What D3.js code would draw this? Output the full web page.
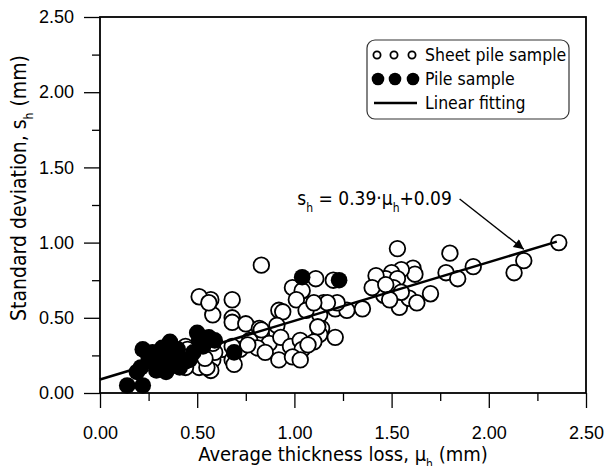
<!DOCTYPE html>
<html>
<head>
<meta charset="utf-8">
<script src="https://cdn.jsdelivr.net/npm/d3@7"></script>
<style>
  body { margin: 0; background: #fff; }
  svg { display: block; font-family: "DejaVu Sans Condensed", "DejaVu Sans", sans-serif; }
</style>
</head>
<body>
<div id="chart"></div>
<script>
// sheet pile sample (open circles): average thickness loss / standard deviation
const sheetMu = [2.36, 2.18, 2.13, 1.92, 1.80, 1.78, 1.84, 1.70, 1.53, 1.61, 1.62, 1.55, 1.50, 1.47, 1.53,
  1.51, 1.46, 1.53, 1.54, 1.59, 1.63, 1.20, 1.42, 1.40, 1.55, 1.15, 1.21, 1.27, 1.22, 1.35,
  1.13, 1.14, 1.13, 1.21, 1.17, 0.83, 1.11, 0.99, 1.04, 1.01, 1.06, 0.68, 0.57, 0.58, 0.68,
  0.68, 0.75, 0.92, 0.94, 0.91, 0.82, 0.83, 0.77, 0.87, 0.93, 0.98, 1.03, 1.04, 1.12, 1.10,
  0.63, 0.72, 0.81, 0.85, 0.92, 0.99, 1.03, 0.68, 0.69, 0.58, 0.57, 0.51, 0.56, 0.44, 0.42,
  0.45, 0.51, 0.55, 0.59, 0.58, 1.47, 1.49, 1.07, 0.83, 0.76, 0.68, 0.54, 0.44, 1.10];
const sheetSd = [1.00, 0.88, 0.80, 0.84, 0.93, 0.80, 0.76, 0.66, 0.96, 0.83, 0.79, 0.82, 0.80, 0.76, 0.76,
  0.70, 0.65, 0.60, 0.57, 0.63, 0.60, 0.75, 0.78, 0.70, 0.67, 0.60, 0.56, 0.55, 0.60, 0.56,
  0.52, 0.43, 0.39, 0.37, 0.60, 0.85, 0.76, 0.70, 0.68, 0.62, 0.55, 0.62, 0.62, 0.52, 0.50,
  0.47, 0.46, 0.55, 0.54, 0.45, 0.43, 0.39, 0.35, 0.33, 0.37, 0.31, 0.35, 0.29, 0.44, 0.34,
  0.29, 0.29, 0.30, 0.27, 0.22, 0.24, 0.22, 0.22, 0.19, 0.22, 0.15, 0.64, 0.60, 0.31, 0.25,
  0.29, 0.17, 0.17, 0.27, 0.33, 0.72, 0.62, 0.32, 0.42, 0.32, 0.31, 0.23, 0.17, 0.60];

// pile sample (filled circles)
const pileMu = [0.14, 0.22, 0.19, 0.21, 0.22, 0.27, 0.32, 0.36, 0.30, 0.26, 0.32, 0.36, 0.39, 0.41, 0.29,
  0.34, 0.44, 0.50, 0.51, 0.56, 0.53, 0.48, 0.46, 0.59, 0.69, 1.04, 1.23, 0.33, 0.25, 0.40];
const pileSd = [0.05, 0.05, 0.14, 0.17, 0.29, 0.27, 0.30, 0.34, 0.22, 0.21, 0.17, 0.21, 0.24, 0.17, 0.15,
  0.14, 0.21, 0.40, 0.35, 0.37, 0.31, 0.27, 0.22, 0.35, 0.27, 0.77, 0.75, 0.25, 0.24, 0.29];

// linear fitting s_h = 0.39*mu_h + 0.09
const fitSlope = 0.39;
const fitIntercept = 0.09;
const fitRange = [0, 2.35];

const majorTicks = [0, 0.5, 1.0, 1.5, 2.0, 2.5];
const minorTicks = [0.25, 0.75, 1.25, 1.75, 2.25];

const legendLabels = ["Sheet pile sample", "Pile sample", "Linear fitting"];

// annotation: label end point and arrow (data units)
const annoLabel = [1.81, 1.25];
const annoArrow = [[1.85, 1.29], [2.18, 0.955]];

const width = 609;
const height = 466;
const margin = {top: 17, right: 23, bottom: 73, left: 100};

const svg = d3.select("#chart")
  .append("svg")
  .attr("width", width)
  .attr("height", height);

const x = d3.scaleLinear().domain([0, 2.5]).range([margin.left, width - margin.right]);
const y = d3.scaleLinear().domain([0, 2.5]).range([height - margin.bottom, margin.top]);

// axes, major and minor ticks
const fmt = d3.format(".2f");

function styleAxis(g) {
  g.select(".domain").remove();
  g.selectAll("line").attr("stroke", "#000").attr("stroke-width", 1.3);
  g.selectAll("text").attr("fill", "#000").style("font-size", "18px");
}

svg.append("g")
  .attr("transform", `translate(0, ${height - margin.bottom})`)
  .call(d3.axisBottom(x).tickValues(majorTicks).tickFormat(fmt).tickSize(15).tickPadding(18).tickSizeOuter(0))
  .call(styleAxis);
svg.append("g")
  .attr("transform", `translate(0, ${height - margin.bottom})`)
  .call(d3.axisBottom(x).tickValues(minorTicks).tickFormat("").tickSize(8).tickSizeOuter(0))
  .call(styleAxis);

svg.append("g")
  .attr("transform", `translate(${margin.left}, 0)`)
  .call(d3.axisLeft(y).tickValues(majorTicks).tickFormat(fmt).tickSize(16).tickPadding(10).tickSizeOuter(0))
  .call(styleAxis);
svg.append("g")
  .attr("transform", `translate(${margin.left}, 0)`)
  .call(d3.axisLeft(y).tickValues(minorTicks).tickFormat("").tickSize(8).tickSizeOuter(0))
  .call(styleAxis);

// plot frame
svg.append("rect")
  .attr("x", x(0))
  .attr("y", y(2.5))
  .attr("width", x(2.5) - x(0))
  .attr("height", y(0) - y(2.5))
  .attr("fill", "none")
  .attr("stroke", "#000")
  .attr("stroke-width", 1.8);

// axis titles
const xTitle = svg.append("text")
  .attr("x", (x(0) + x(2.5)) / 2)
  .attr("y", 461)
  .attr("text-anchor", "middle")
  .style("font-size", "20px");
xTitle.append("tspan").text("Average thickness loss, μ");
xTitle.append("tspan").text("h").attr("baseline-shift", "sub").style("font-size", "12px");
xTitle.append("tspan").text(" (mm)");

const yTitle = svg.append("text")
  .attr("transform", "translate(26, 188) rotate(-90)")
  .attr("text-anchor", "middle")
  .style("font-size", "21px");
yTitle.append("tspan").text("Standard deviation, s");
yTitle.append("tspan").text("h").attr("baseline-shift", "sub").style("font-size", "12px");
yTitle.append("tspan").text(" (mm)");

// points
const r = 7.8;
const sheet = sheetMu.map((m, i) => ({mu: m, sd: sheetSd[i]}));
const pile = pileMu.map((m, i) => ({mu: m, sd: pileSd[i]}));

svg.append("g")
  .selectAll("circle")
  .data(sheet)
  .join("circle")
  .attr("cx", d => x(d.mu))
  .attr("cy", d => y(d.sd))
  .attr("r", r)
  .attr("fill", "#fff")
  .attr("stroke", "#000")
  .attr("stroke-width", 1.8);

svg.append("g")
  .selectAll("circle")
  .data(pile)
  .join("circle")
  .attr("cx", d => x(d.mu))
  .attr("cy", d => y(d.sd))
  .attr("r", r + 0.5)
  .attr("fill", "#000");

// fit line
svg.append("line")
  .attr("x1", x(fitRange[0]))
  .attr("y1", y(fitSlope * fitRange[0] + fitIntercept))
  .attr("x2", x(fitRange[1]))
  .attr("y2", y(fitSlope * fitRange[1] + fitIntercept))
  .attr("stroke", "#000")
  .attr("stroke-width", 2.6);

// annotation
svg.append("defs").append("marker")
  .attr("id", "arrow")
  .attr("viewBox", "0 0 10 10")
  .attr("refX", 10).attr("refY", 5)
  .attr("markerWidth", 13).attr("markerHeight", 10)
  .attr("markerUnits", "userSpaceOnUse")
  .attr("orient", "auto")
  .append("path")
  .attr("d", "M0,0 L10,5 L0,10 Z")
  .attr("fill", "#000");

svg.append("line")
  .attr("x1", x(annoArrow[0][0]))
  .attr("y1", y(annoArrow[0][1]))
  .attr("x2", x(annoArrow[1][0]))
  .attr("y2", y(annoArrow[1][1]))
  .attr("stroke", "#000")
  .attr("stroke-width", 1.4)
  .attr("marker-end", "url(#arrow)");

const anno = svg.append("text")
  .attr("x", x(annoLabel[0]))
  .attr("y", y(annoLabel[1]))
  .attr("text-anchor", "end")
  .style("font-size", "19px");
anno.append("tspan").text("s");
anno.append("tspan").text("h").attr("baseline-shift", "sub").style("font-size", "12px");
anno.append("tspan").text(" = 0.39·μ");
anno.append("tspan").text("h").attr("baseline-shift", "sub").style("font-size", "12px");
anno.append("tspan").text("+0.09");

// legend
const legend = svg.append("g").attr("transform", "translate(367, 40)");
legend.append("rect")
  .attr("width", 202)
  .attr("height", 79)
  .attr("rx", 8)
  .attr("fill", "#fff")
  .attr("stroke", "#333")
  .attr("stroke-width", 1.2);

const rowY = [15, 39, 63];
[10, 27, 45].forEach(cx => {
  legend.append("circle").attr("cx", cx).attr("cy", rowY[0]).attr("r", 3.6)
    .attr("fill", "#fff").attr("stroke", "#000").attr("stroke-width", 1.8);
  legend.append("circle").attr("cx", cx + 1).attr("cy", rowY[1]).attr("r", 6.3)
    .attr("fill", "#000");
});
legend.append("line")
  .attr("x1", 7).attr("x2", 50)
  .attr("y1", rowY[2]).attr("y2", rowY[2])
  .attr("stroke", "#000").attr("stroke-width", 2.4);

legend.selectAll("text.lab")
  .data(legendLabels)
  .join("text")
  .attr("class", "lab")
  .attr("x", 58)
  .attr("y", (d, i) => rowY[i] + 6)
  .style("font-size", "17.5px")
  .text(d => d);
</script>
</body>
</html>
